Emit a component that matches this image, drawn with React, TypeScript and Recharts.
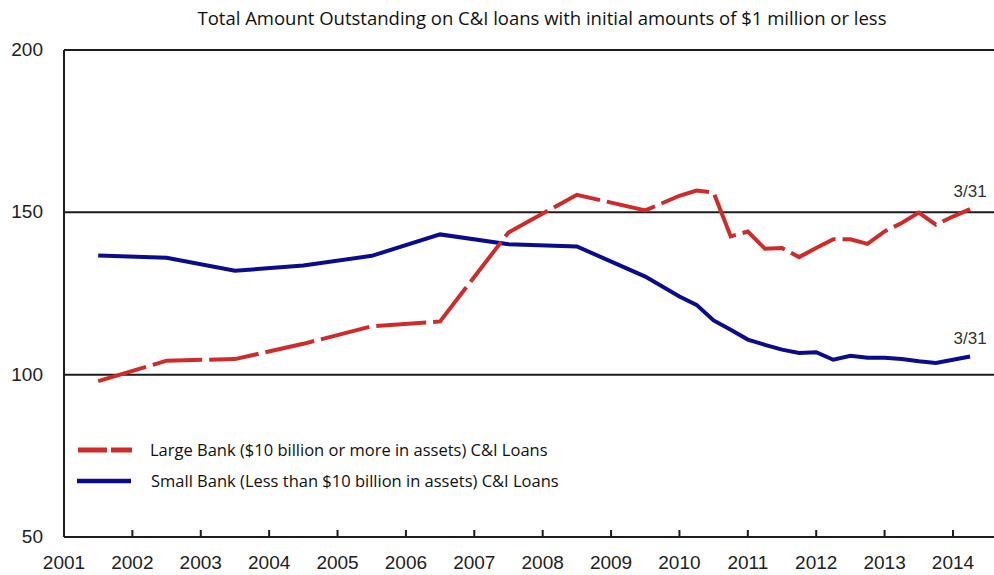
import React from 'react';
import { LineChart, Line, XAxis, YAxis, ReferenceLine, Legend } from 'recharts';

// Dates as fractional years (annual June points, then quarterly)
const periods = [
  2001.5, 2002.5, 2003.5, 2004.5, 2005.5, 2006.5, 2007.5, 2008.5, 2009.5,
  2010.0, 2010.25, 2010.5, 2010.75, 2011.0, 2011.25, 2011.5, 2011.75,
  2012.0, 2012.25, 2012.5, 2012.75, 2013.0, 2013.25, 2013.5, 2013.75,
  2014.0, 2014.25,
];

const largeBank = [
  98.0, 104.3, 104.8, 109.5, 114.9, 116.4, 143.8, 155.4, 150.6,
  155.1, 156.7, 156.1, 142.6, 144.1, 138.8, 139.0, 136.2,
  139.0, 141.7, 141.7, 140.3, 144.1, 146.7, 149.9, 146.2,
  148.7, 151.0,
];

const smallBank = [
  136.7, 136.0, 132.0, 133.6, 136.6, 143.2, 140.2, 139.5, 130.2,
  124.1, 121.5, 116.7, 113.8, 110.8, 109.2, 107.7, 106.7,
  106.9, 104.6, 105.8, 105.2, 105.2, 104.8, 104.1, 103.6,
  104.6, 105.6,
];

const yearTicks = [2001, 2002, 2003, 2004, 2005, 2006, 2007, 2008, 2009, 2010, 2011, 2012, 2013, 2014];
const valueTicks = [50, 100, 150, 200];

const titleText = 'Total Amount Outstanding on C&I loans with initial amounts of $1 million or less';
const largeLabel = 'Large Bank ($10 billion or more in assets) C&I Loans';
const smallLabel = 'Small Bank (Less than $10 billion in assets) C&I Loans';
const endLabel = '3/31';

const data = periods.map((p, i) => ({ t: p, large: largeBank[i], small: smallBank[i] }));

const RED = '#cf2b2b';
const BLUE = '#0b0b8e';
const FRAME = '#1c1c1c';
const TEXT_FONT = '"Open Sans", Lato, sans-serif';
const AXIS_FONT = '"Liberation Sans", Arial, sans-serif';

const XTick = (props: any) => {
  const { x, y, payload } = props;
  return (
    <g>
      <line x1={x} x2={x} y1={y} y2={y - 7} stroke={FRAME} strokeWidth={2} />
      <text x={x} y={y + 32} textAnchor="middle" fontFamily={AXIS_FONT} fontSize={19} fill="#222">
        {payload.value}
      </text>
    </g>
  );
};

const YTick = (props: any) => {
  const { x, y, payload } = props;
  return (
    <text x={x} y={y + 6} textAnchor="end" fontFamily={AXIS_FONT} fontSize={19} fill="#222">
      {payload.value}
    </text>
  );
};

const makeEndLabel = () => (props: any) => {
  const { x, y, index } = props;
  if (index !== data.length - 1) return null;
  return (
    <text x={x} y={y - 12} textAnchor="middle" fontFamily={AXIS_FONT} fontSize={17} fill="#333">
      {endLabel}
    </text>
  );
};

const LegendContent = () => (
  <svg width={580} height={60}>
    <line x1={8} x2={62} y1={15} y2={15} stroke={RED} strokeWidth={5} strokeDasharray="29 4" />
    <text x={80} y={21} fontFamily={TEXT_FONT} fontSize={16.5} fill="#111">{largeLabel}</text>
    <line x1={7} x2={61} y1={46} y2={46} stroke={BLUE} strokeWidth={4.5} />
    <text x={81} y={52} fontFamily={TEXT_FONT} fontSize={16.5} fill="#111">{smallLabel}</text>
  </svg>
);

export default function App() {
  return (
    <div style={{ position: 'absolute', left: 0, top: 0, width: 994, height: 575, background: '#fff' }}>
      <div
        style={{
          position: 'absolute',
          left: 0,
          top: 5,
          width: 994,
          paddingLeft: 90,
          boxSizing: 'border-box',
          textAlign: 'center',
          fontFamily: TEXT_FONT,
          fontSize: 18.5,
          color: '#111',
          lineHeight: '26px',
          whiteSpace: 'nowrap',
        }}
      >
        {titleText}
      </div>
      <LineChart
        width={994}
        height={575}
        data={data}
        margin={{ top: 50, right: 0, bottom: 0, left: 0 }}
      >
        <XAxis
          dataKey="t"
          type="number"
          domain={[2001, 2014.6]}
          ticks={yearTicks}
          allowDataOverflow
          height={38}
          tickSize={0}
          tickMargin={0}
          tickLine={false}
          axisLine={{ stroke: FRAME, strokeWidth: 2 }}
          tick={<XTick />}
          interval={0}
        />
        <YAxis
          type="number"
          domain={[50, 200]}
          ticks={valueTicks}
          width={64}
          tickSize={0}
          tickMargin={21}
          tickLine={false}
          axisLine={{ stroke: FRAME, strokeWidth: 2 }}
          tick={<YTick />}
          interval={0}
        />
        <ReferenceLine y={200} stroke={FRAME} strokeWidth={2} />
        <ReferenceLine y={150} stroke={FRAME} strokeWidth={2} />
        <ReferenceLine y={100} stroke={FRAME} strokeWidth={2} />
        <Legend
          layout="vertical"
          align="center"
          verticalAlign="middle"
          content={<LegendContent />}
          wrapperStyle={{ left: 70, top: 435, width: 580, height: 60 }}
        />
        <Line
          type="linear"
          dataKey="small"
          stroke={BLUE}
          strokeWidth={4}
          dot={false}
          isAnimationActive={false}
          label={makeEndLabel()}
        />
        <Line
          type="linear"
          dataKey="large"
          stroke={RED}
          strokeWidth={4}
          strokeDasharray="50 7"
          dot={false}
          isAnimationActive={false}
          label={makeEndLabel()}
        />
      </LineChart>
    </div>
  );
}
